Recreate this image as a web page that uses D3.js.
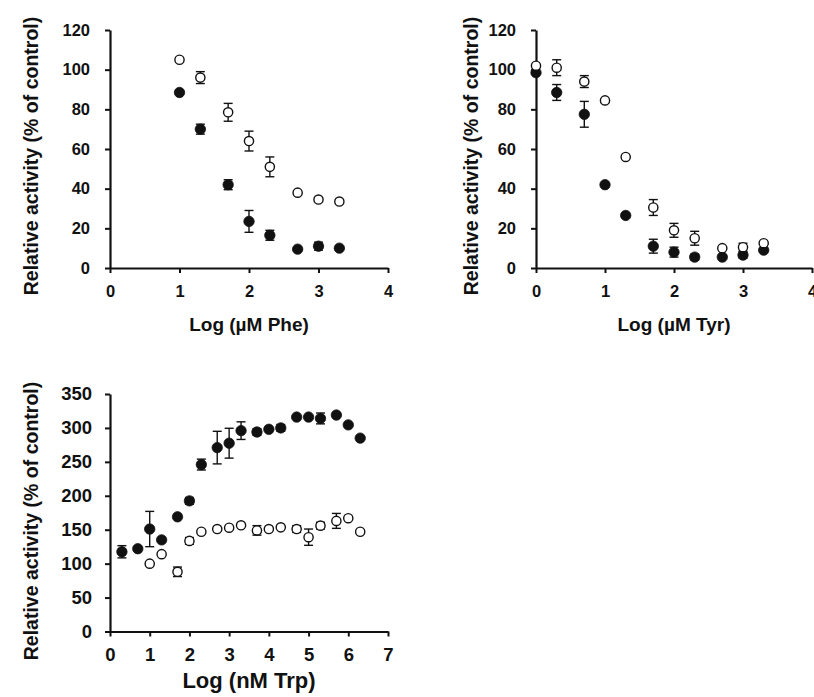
<!DOCTYPE html>
<html>
<head>
<meta charset="utf-8">
<script src="https://cdn.jsdelivr.net/npm/d3@7"></script>
<style>
  body { margin: 0; background: #fff; }
  svg { display: block; }
  text { font-family: "Liberation Sans", Arial, sans-serif; font-weight: bold; fill: #111; }
</style>
</head>
<body>
<div id="chart"></div>
<script>
// ---------------------------------------------------------------
// Three dose-response panels: Phe, Tyr (uM) and Trp (nM)
// filled = series 1, open = series 2, with +/- error bars
// ---------------------------------------------------------------

// Phe panel
const pheX = [1, 1.3, 1.7, 2, 2.3, 2.7, 3, 3.3];
const pheFilled = [88.5, 70, 42, 23.5, 16.5, 9.5, 11, 10];
const pheFilledErr = [0, 2.5, 2.5, 5.5, 2.5, 0, 2, 0];
const pheOpen = [105, 96, 78.5, 64, 51, 38, 34.5, 33.5];
const pheOpenErr = [0, 3, 4.5, 5, 5, 0, 0, 0];

// Tyr panel
const tyrX = [0, 0.3, 0.7, 1, 1.3, 1.7, 2, 2.3, 2.7, 3, 3.3];
const tyrFilled = [98.5, 88.5, 77.5, 42, 26.5, 11, 8, 5.5, 5.5, 6.5, 9];
const tyrFilledErr = [0, 4, 6.5, 0, 0, 3.5, 2.5, 1.5, 0, 1.5, 0];
const tyrOpen = [102, 101, 94, 84.5, 56, 30.5, 19, 15, 10, 10.5, 12.5];
const tyrOpenErr = [0, 4, 3, 0, 0, 4, 3.5, 3.5, 0, 2, 0];

// Trp panel
const trpFilledX = [0.3, 0.7, 1, 1.3, 1.7, 2, 2.3, 2.7, 3, 3.3, 3.7, 4, 4.3, 4.7, 5, 5.3, 5.7, 6, 6.3];
const trpFilled = [117.5, 122, 151, 135, 169, 192.5, 246, 271, 277.5, 296, 294, 298, 300, 316, 316, 314, 319, 304.5, 285];
const trpFilledErr = [9, 0, 26, 0, 0, 5, 8, 24, 22, 13, 5, 0, 5, 0, 0, 8, 0, 0, 0];
const trpOpenX = [1, 1.3, 1.7, 2, 2.3, 2.7, 3, 3.3, 3.7, 4, 4.3, 4.7, 5, 5.3, 5.7, 6, 6.3];
const trpOpen = [100, 114, 88, 133.5, 147, 151, 153, 156.5, 149, 151, 153.5, 151, 139, 156, 163, 167, 147];
const trpOpenErr = [0, 0, 7, 5, 0, 0, 0, 0, 7, 0, 0, 5, 12, 5, 11, 0, 0];

// Tick labels
const pheXTicks = [0, 1, 2, 3, 4];
const tyrXTicks = [0, 1, 2, 3, 4];
const trpXTicks = [0, 1, 2, 3, 4, 5, 6, 7];
const pctYTicks = [0, 20, 40, 60, 80, 100, 120];
const trpYTicks = [0, 50, 100, 150, 200, 250, 300, 350];

const yTitle = "Relative activity (% of control)";

const width = 814, height = 697;

const svg = d3.select("#chart")
    .append("svg")
        .attr("width", width)
        .attr("height", height);

function zip(xs, ys, es) {
    return xs.map((x, i) => ({x: x, y: ys[i], e: es[i]}));
}

function drawPanel(p) {
    const x = d3.scaleLinear().domain(p.xDomain).range(p.xRange);
    const y = d3.scaleLinear().domain(p.yDomain).range(p.yRange);

    const g = svg.append("g");

    // x axis
    const xAxis = g.append("g")
        .attr("transform", `translate(0,${p.yRange[0]})`)
        .call(d3.axisBottom(x).tickValues(p.xTicks).tickFormat(d3.format("d"))
            .tickSizeInner(5).tickSizeOuter(0).tickPadding(p.xPad));
    // y axis
    const yAxis = g.append("g")
        .attr("transform", `translate(${p.xRange[0]},0)`)
        .call(d3.axisLeft(y).tickValues(p.yTicks).tickFormat(d3.format("d"))
            .tickSizeInner(5).tickSizeOuter(0).tickPadding(p.yPad));

    [xAxis, yAxis].forEach(a => {
        a.select(".domain").attr("stroke", "#111").attr("stroke-width", 2.2);
        a.selectAll(".tick line").attr("stroke", "#111").attr("stroke-width", 2);
        a.selectAll(".tick text")
            .style("font-size", p.tickSize + "px")
            .attr("fill", "#111");
    });

    // axis titles
    g.append("text")
        .attr("x", (p.xRange[0] + p.xRange[1]) / 2)
        .attr("y", p.xTitleY)
        .attr("text-anchor", "middle")
        .style("font-size", p.xTitleSize + "px")
        .text(p.xTitle);

    g.append("text")
        .attr("transform", `translate(${p.yTitleX},${p.yTitleMid}) rotate(-90)`)
        .attr("text-anchor", "middle")
        .style("font-size", p.yTitleSize + "px")
        .text(yTitle);

    // series: filled first, open on top
    p.series.forEach(s => {
        const sg = g.append("g");
        const withErr = s.data.filter(d => d.e > 0);

        sg.selectAll("line.bar")
            .data(withErr)
            .join("line")
                .attr("class", "bar")
                .attr("x1", d => x(d.x)).attr("x2", d => x(d.x))
                .attr("y1", d => y(d.y - d.e)).attr("y2", d => y(d.y + d.e))
                .attr("stroke", "#111").attr("stroke-width", 1.4);
        sg.selectAll("line.capTop")
            .data(withErr)
            .join("line")
                .attr("class", "capTop")
                .attr("x1", d => x(d.x) - 4.5).attr("x2", d => x(d.x) + 4.5)
                .attr("y1", d => y(d.y + d.e)).attr("y2", d => y(d.y + d.e))
                .attr("stroke", "#111").attr("stroke-width", 1.4);
        sg.selectAll("line.capBot")
            .data(withErr)
            .join("line")
                .attr("class", "capBot")
                .attr("x1", d => x(d.x) - 4.5).attr("x2", d => x(d.x) + 4.5)
                .attr("y1", d => y(d.y - d.e)).attr("y2", d => y(d.y - d.e))
                .attr("stroke", "#111").attr("stroke-width", 1.4);

        sg.selectAll("circle")
            .data(s.data)
            .join("circle")
                .attr("cx", d => x(d.x))
                .attr("cy", d => y(d.y))
                .attr("r", s.filled ? 5.2 : 4.6)
                .attr("fill", s.filled ? "#111" : "#fff")
                .attr("stroke", "#111")
                .attr("stroke-width", s.filled ? 0.8 : 1.4);
    });
}

drawPanel({
    xDomain: [0, 4], xRange: [110, 388],
    yDomain: [0, 120], yRange: [268, 30],
    xTicks: pheXTicks, yTicks: pctYTicks, tickSize: 16.5, xPad: 12, yPad: 15,
    xTitle: "Log (\u00b5M Phe)", xTitleY: 331, xTitleSize: 19,
    yTitleX: 38, yTitleMid: 156, yTitleSize: 19.5,
    series: [
        {filled: true, data: zip(pheX, pheFilled, pheFilledErr)},
        {filled: false, data: zip(pheX, pheOpen, pheOpenErr)}
    ]
});

drawPanel({
    xDomain: [0, 4], xRange: [536, 812],
    yDomain: [0, 120], yRange: [268, 30],
    xTicks: tyrXTicks, yTicks: pctYTicks, tickSize: 16.5, xPad: 12, yPad: 15,
    xTitle: "Log (\u00b5M Tyr)", xTitleY: 331, xTitleSize: 19,
    yTitleX: 478, yTitleMid: 156, yTitleSize: 19.5,
    series: [
        {filled: true, data: zip(tyrX, tyrFilled, tyrFilledErr)},
        {filled: false, data: zip(tyrX, tyrOpen, tyrOpenErr)}
    ]
});

drawPanel({
    xDomain: [0, 7], xRange: [110, 388],
    yDomain: [0, 350], yRange: [631.5, 394],
    xTicks: trpXTicks, yTicks: trpYTicks, tickSize: 18.5, xPad: 11, yPad: 13,
    xTitle: "Log (nM Trp)", xTitleY: 688, xTitleSize: 22,
    yTitleX: 38, yTitleMid: 521, yTitleSize: 19.5,
    series: [
        {filled: true, data: zip(trpFilledX, trpFilled, trpFilledErr)},
        {filled: false, data: zip(trpOpenX, trpOpen, trpOpenErr)}
    ]
});
</script>
</body>
</html>
